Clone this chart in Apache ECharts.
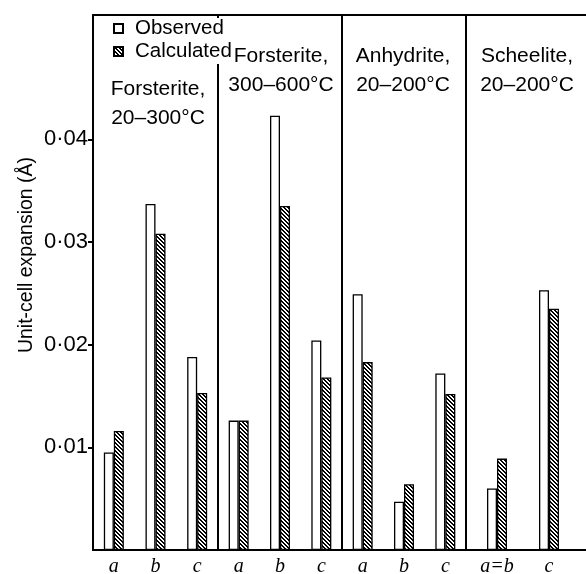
<!DOCTYPE html>
<html><head><meta charset="utf-8">
<script src="https://cdn.jsdelivr.net/npm/echarts@6/dist/echarts.min.js"></script>
<style>html,body{margin:0;padding:0;background:#fff}#chart{width:586px;height:574px}</style>
</head><body><div id="chart"></div>
<script>
// ---- data ----
const seriesNames = ['Observed', 'Calculated'];
const panelTitles = ['Forsterite,\n20–300°C', 'Forsterite,\n300–600°C', 'Anhydrite,\n20–200°C', 'Scheelite,\n20–200°C'];
const panelCategories = [['a', 'b', 'c'], ['a', 'b', 'c'], ['a', 'b', 'c'], ['a=b', 'c']];
const observed = [[0.0095, 0.0337, 0.0188], [0.0126, 0.0423, 0.0204], [0.0249, 0.0047, 0.0172], [0.0060, 0.0253]];
const calculated = [[0.0116, 0.0308, 0.0153], [0.0126, 0.0335, 0.0168], [0.0183, 0.0064, 0.0152], [0.0089, 0.0235]];
const yTickValues = [0.01, 0.02, 0.03, 0.04];
const yAxisTitle = 'Unit-cell expansion (Å)';

// ---- layout / style ----
const FONT = '"Liberation Sans", Arial, Helvetica, sans-serif';
const TOP = 15, BOTTOM = 24, YMAX = 0.0521;
const panelBoxes = [{left: 93, width: 125}, {left: 218, width: 124}, {left: 342, width: 124}, {left: 471, width: 104}];
const dividerOffset = [0, 0, 0, 5];
const titlePos = [{x: 158, y: 104}, {x: 281, y: 71}, {x: 403, y: 71}, {x: 527, y: 71}];

const hatch = document.createElement('canvas');
hatch.width = 4; hatch.height = 4;
const hctx = hatch.getContext('2d');
hctx.fillStyle = '#fff'; hctx.fillRect(0, 0, 4, 4);
hctx.fillStyle = '#000';
for (let y = 0; y < 4; y++) for (let x = 0; x < 4; x++) if ((((x - y) % 4) + 4) % 4 < 2) hctx.fillRect(x, y, 1, 1);

const grids = [{left: 93, right: 0, top: TOP, bottom: BOTTOM, outerBoundsMode: 'none', containLabel: false}];
const xAxes = [
  {gridIndex: 0, type: 'value', position: 'bottom', min: 0, max: 1,
   axisLine: {show: true, onZero: false, lineStyle: {color: '#000', width: 2}},
   axisTick: {show: false}, axisLabel: {show: false}, splitLine: {show: false}},
  {gridIndex: 0, type: 'value', position: 'top', min: 0, max: 1,
   axisLine: {show: true, onZero: false, lineStyle: {color: '#000', width: 2}},
   axisTick: {show: false}, axisLabel: {show: false}, splitLine: {show: false}}
];
const yAxes = [{
  gridIndex: 0, type: 'value', min: 0, max: YMAX,
  axisLine: {show: true, lineStyle: {color: '#000', width: 2}},
  axisTick: {show: true, length: 5, inside: false, customValues: yTickValues, lineStyle: {color: '#000', width: 2}},
  axisLabel: {show: true, customValues: yTickValues, margin: 5, color: '#000', fontSize: 22, fontFamily: FONT,
    formatter: v => v.toFixed(2).replace('.', '·')},
  splitLine: {show: false}
}];
const series = [];
panelBoxes.forEach((b, i) => {
  grids.push({left: b.left, width: b.width, top: TOP, bottom: BOTTOM, outerBoundsMode: 'none', containLabel: false});
  xAxes.push({gridIndex: i + 1, type: 'category', data: panelCategories[i],
    axisLine: {show: false}, axisTick: {show: false},
    axisLabel: {color: '#000', fontSize: 20, fontStyle: 'italic', fontFamily: '"Liberation Serif", "Times New Roman", serif', margin: 7}});
  yAxes.push({gridIndex: i + 1, type: 'value', min: 0, max: YMAX, show: i > 0, offset: dividerOffset[i],
    axisLine: {show: true, lineStyle: {color: '#000', width: 2}},
    axisTick: {show: false}, axisLabel: {show: false}, splitLine: {show: false}});
  series.push({name: seriesNames[0], type: 'bar', xAxisIndex: i + 2, yAxisIndex: i + 1,
    data: observed[i], barWidth: 10, barGap: '0%',
    itemStyle: {color: '#fff', borderColor: '#000', borderWidth: 1.3}});
  series.push({name: seriesNames[1], type: 'bar', xAxisIndex: i + 2, yAxisIndex: i + 1,
    data: calculated[i], barWidth: 10, barGap: '0%',
    itemStyle: {color: {image: hatch, repeat: 'repeat'}, borderColor: '#000', borderWidth: 1.3}});
});

const graphics = panelTitles.map((t, i) => ({
  type: 'text', x: titlePos[i].x, y: titlePos[i].y, z: 50,
  style: {text: t, fill: '#000', fontSize: 21, fontFamily: FONT, lineHeight: 29, align: 'center', verticalAlign: 'middle'}
}));
graphics.push({type: 'text', x: 27, y: 255, rotation: Math.PI / 2, z: 50,
  style: {text: yAxisTitle, fill: '#000', fontSize: 19.5, fontFamily: FONT, align: 'center', verticalAlign: 'middle'}});

const chart = echarts.init(document.getElementById('chart'));
chart.setOption({
  animation: false,
  backgroundColor: '#fff',
  grid: grids, xAxis: xAxes, yAxis: yAxes, series: series,
  legend: {
    data: seriesNames.map(n => ({name: n, icon: 'rect'})),
    orient: 'vertical', left: 111, top: 18, itemWidth: 9, itemHeight: 9, itemGap: 2,
    selectedMode: false, backgroundColor: '#fff', padding: [0, 0, 2, 2], z: 5,
    textStyle: {color: '#000', fontSize: 20.5, fontFamily: FONT, padding: [2, 0, 0, 7]}
  },
  graphic: graphics
});
</script></body></html>
